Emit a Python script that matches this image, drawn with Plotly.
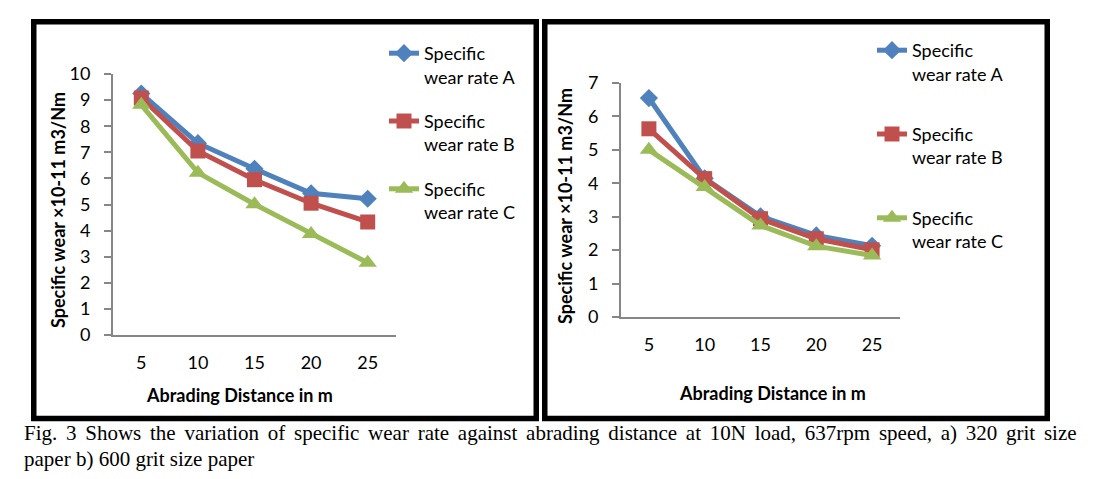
import plotly.graph_objects as go

distance = ["5", "10", "15", "20", "25"]
series_names = ["Specific<br>wear rate A", "Specific<br>wear rate B", "Specific<br>wear rate C"]

# a) 320 grit size paper
left_A = [9.25, 7.35, 6.37, 5.43, 5.22]
left_B = [9.08, 7.05, 5.95, 5.05, 4.33]
left_C = [8.82, 6.22, 5.01, 3.87, 2.77]

# b) 600 grit size paper
right_A = [6.55, 4.15, 3.01, 2.44, 2.13]
right_B = [5.63, 4.14, 2.94, 2.34, 2.01]
right_C = [5.00, 3.89, 2.74, 2.12, 1.84]

y_title = "Specific wear ×10-11 m3/Nm"
x_title = "Abrading Distance in m"
caption1 = "Fig. 3 Shows the variation of specific wear rate against abrading distance at 10N load, 637rpm speed, a) 320 grit size"
caption2 = "paper b) 600 grit size paper"

colors = ["#4F81BD", "#C0504D", "#9BBB59"]
symbols = ["diamond", "square", "triangle-up"]
msizes = [14, 15, 16]

W, H = 1099, 479
def px(x):
    return x / W
def py(y):
    return 1 - y / H

FONT = "Lato"

fig = go.Figure()

for i, ys in enumerate([left_A, left_B, left_C]):
    fig.add_trace(go.Scatter(
        x=distance, y=ys, name=series_names[i], mode="lines+markers",
        line=dict(color=colors[i], width=5),
        marker=dict(symbol=symbols[i], size=msizes[i], color=colors[i]),
        xaxis="x", yaxis="y", legend="legend", legendgroup="l%d" % i,
    ))
for i, ys in enumerate([right_A, right_B, right_C]):
    fig.add_trace(go.Scatter(
        x=distance, y=ys, name=series_names[i], mode="lines+markers",
        line=dict(color=colors[i], width=5),
        marker=dict(symbol=symbols[i], size=msizes[i], color=colors[i]),
        xaxis="x2", yaxis="y2", legend="legend2", legendgroup="r%d" % i,
    ))

axis_common = dict(showgrid=False, zeroline=False, showline=True, automargin=False,
                   linecolor="#868686", linewidth=2,
                   tickfont=dict(family=FONT, size=18, color="black"))

fig.update_layout(
    width=W, height=H,
    margin=dict(l=0, r=0, t=0, b=0, pad=0, autoexpand=False),
    paper_bgcolor="white", plot_bgcolor="white",
    font=dict(family=FONT, size=18, color="black"),
    xaxis=dict(domain=[px(113), px(396)], anchor="y", type="category",
               range=[-0.5, 4.5], ticks="", ticklabelstandoff=10, **axis_common),
    yaxis=dict(domain=[py(335), py(74)], anchor="x", range=[0, 10], dtick=1,
               ticks="outside", ticklen=7, tickwidth=2, tickcolor="#868686",
               ticklabelstandoff=10, **axis_common),
    xaxis2=dict(domain=[px(621), px(900)], anchor="y2", type="category",
                range=[-0.5, 4.5], ticks="", ticklabelstandoff=10, **axis_common),
    yaxis2=dict(domain=[py(317), py(83)], anchor="x2", range=[0, 7], dtick=1,
                ticks="outside", ticklen=7, tickwidth=2, tickcolor="#868686",
                ticklabelstandoff=10, **axis_common),
    legend=dict(x=px(384), y=py(35), xanchor="left", yanchor="top",
                valign="top", tracegroupgap=18, bgcolor="rgba(0,0,0,0)",
                font=dict(family=FONT, size=18, color="black")),
    legend2=dict(x=px(872), y=py(32), xanchor="left", yanchor="top",
                 valign="top", tracegroupgap=34, bgcolor="rgba(0,0,0,0)",
                 font=dict(family=FONT, size=18, color="black")),
    showlegend=True,
)

cap1 = caption1.replace(" ", " \u2006")
annotations = [
    dict(text="<b>%s</b>" % x_title, x=px(239), y=py(395), xref="paper", yref="paper",
         showarrow=False, xanchor="center", yanchor="middle", font=dict(size=18)),
    dict(text="<b>%s</b>" % x_title, x=px(772), y=py(393), xref="paper", yref="paper",
         showarrow=False, xanchor="center", yanchor="middle", font=dict(size=18)),
    dict(text="<b>%s</b>" % y_title, x=px(58), y=py(210), xref="paper", yref="paper",
         showarrow=False, xanchor="center", yanchor="middle", textangle=-90, font=dict(size=18)),
    dict(text="<b>%s</b>" % y_title, x=px(565), y=py(206), xref="paper", yref="paper",
         showarrow=False, xanchor="center", yanchor="middle", textangle=-90, font=dict(size=18)),
    dict(text=cap1, x=px(22), y=py(433), xref="paper", yref="paper",
         showarrow=False, xanchor="left", yanchor="middle",
         font=dict(family="Liberation Serif", size=21, color="black")),
    dict(text=caption2, x=px(22), y=py(459), xref="paper", yref="paper",
         showarrow=False, xanchor="left", yanchor="middle",
         font=dict(family="Liberation Serif", size=21, color="black")),
]
fig.update_layout(annotations=annotations)

shapes = [
    dict(type="rect", xref="paper", yref="paper",
         x0=px(33.75), x1=px(536.25), y0=py(418.5), y1=py(21.75),
         line=dict(color="black", width=5.5), fillcolor="rgba(0,0,0,0)"),
    dict(type="rect", xref="paper", yref="paper",
         x0=px(544.75), x1=px(1047.25), y0=py(418.5), y1=py(21.75),
         line=dict(color="black", width=5.5), fillcolor="rgba(0,0,0,0)"),
]
fig.update_layout(shapes=shapes)

fig.write_html("out.html", config={"displayModeBar": False},
               post_script="document.body.style.margin='0';")
